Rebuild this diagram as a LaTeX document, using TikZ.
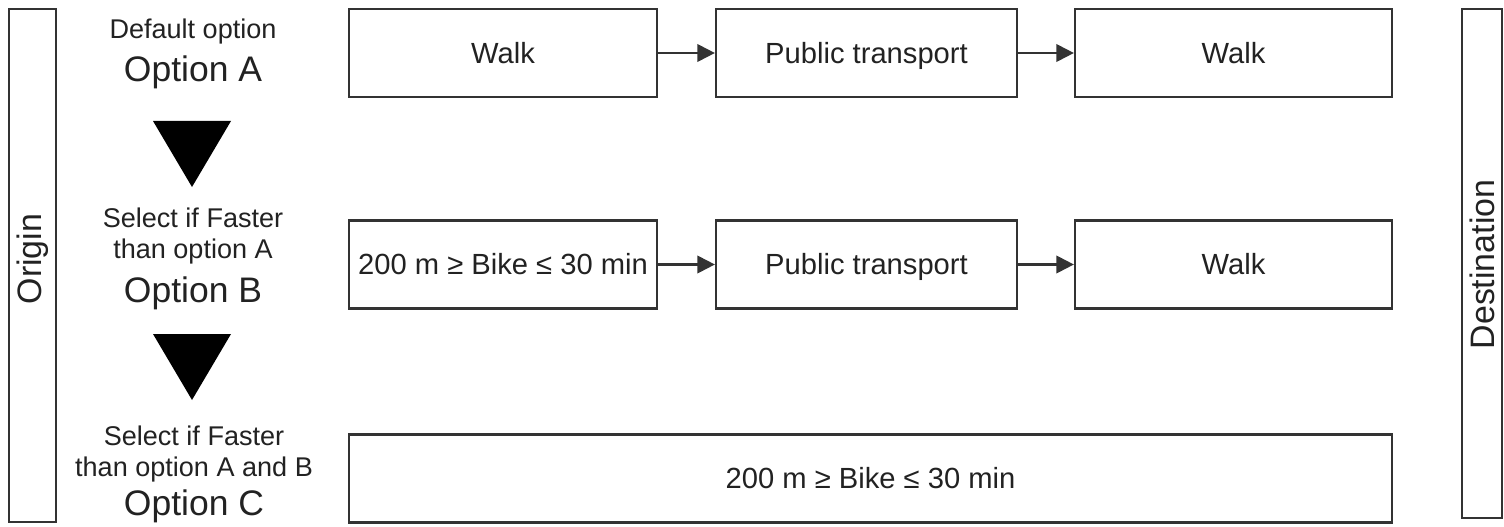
\documentclass[tikz,border=0pt]{standalone}
\usepackage{fontspec}
\setmainfont{Liberation Sans}
\usetikzlibrary{arrows.meta}
\definecolor{ln}{HTML}{333333}
\definecolor{tx}{HTML}{222222}
\begin{document}
\begin{tikzpicture}[x=0.02cm,y=-0.02cm,
  box/.style={draw=ln,line width=1.3pt,fill=white,minimum height=1.76cm,inner sep=0pt,text=tx,text height=11.9pt,text depth=0pt,font=\fontsize{16.6}{19}\selectfont},
  sidebox/.style={draw=ln,line width=1.3pt,inner sep=0pt},
  sidetext/.style={text=tx,rotate=90,inner sep=0pt,font=\fontsize{19.3}{22}\selectfont},
  small/.style={text=tx,inner sep=0pt,font=\fontsize{15.4}{18}\selectfont},
  big/.style={text=tx,inner sep=0pt,font=\fontsize{20.2}{24}\selectfont},
  conn/.style={draw=ln,line width=1.2pt,-{Triangle[length=10pt,width=10pt]}}]
\useasboundingbox (0,0) rectangle (1504,527);
\fill[white] (0,0) rectangle (1504,527);
% side boxes
\node[sidebox,minimum width=0.94cm,minimum height=10.26cm] (orig) at (32.5,265.5) {};
\node[sidetext] (origtxt) at (32.5,259) {Origin};
\node[sidebox,minimum width=0.8cm,minimum height=10.18cm] (dest) at (1482,263.5) {};
\node[sidetext] (desttxt) at (1482,264.5) {Destination};
% left labels
\node[small] (la1) at (193,32) {Default option};
\node[big] (la2) at (193,72) {Option A};
\fill[black] (153,121) -- (231,121) -- (192,187) -- cycle;
\node[small] (lb1) at (193,218) {Select if Faster};
\node[small] (lb2) at (193,252) {than option A};
\node[big] (lb3) at (193,293) {Option B};
\fill[black] (153,334) -- (231,334) -- (192,400) -- cycle;
\node[small] (lc1) at (194,436) {Select if Faster};
\node[small] (lc2) at (194,469) {than option A and B};
\node[big] (lc3) at (194,506) {Option C};
% row A
\node[box,minimum width=6.16cm] (a1) at (503,53) {Walk};
\node[box,minimum width=6.02cm] (a2) at (866.5,53) {Public transport};
\node[box,minimum width=6.34cm] (a3) at (1233.5,53) {Walk};
\draw[conn] (a1) -- (a2);
\draw[conn] (a2) -- (a3);
% row B
\node[box,minimum width=6.16cm] (b1) at (503,264.5) {200 m ≥ Bike ≤ 30 min};
\node[box,minimum width=6.02cm] (b2) at (866.5,264.5) {Public transport};
\node[box,minimum width=6.34cm] (b3) at (1233.5,264.5) {Walk};
\draw[conn] (b1) -- (b2);
\draw[conn] (b2) -- (b3);
% row C
\node[box,minimum width=20.86cm] (c1) at (870.5,478.5) {200 m ≥ Bike ≤ 30 min};
\end{tikzpicture}
\end{document}
